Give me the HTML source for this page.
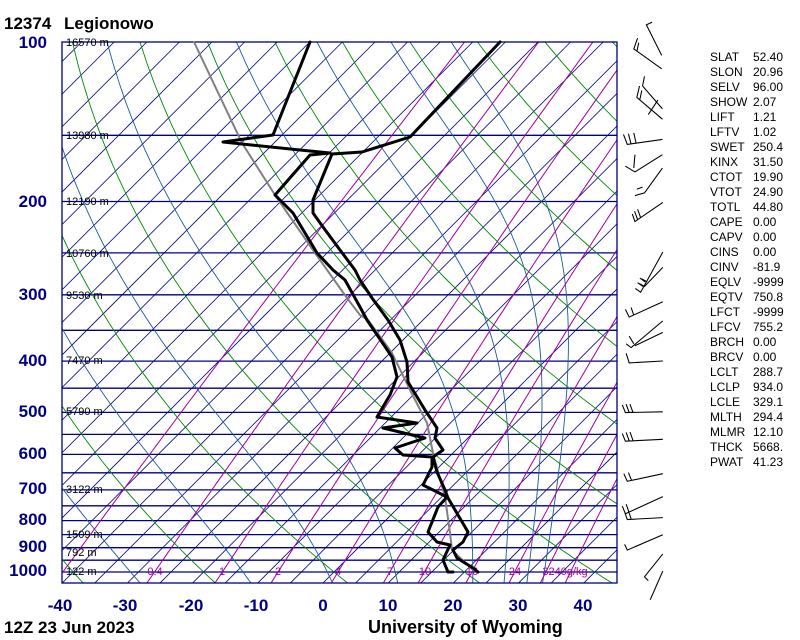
<!DOCTYPE html>
<html><head><meta charset="utf-8">
<style>
html,body{margin:0;padding:0;background:#fff;}
svg{display:block;font-family:"Liberation Sans",sans-serif;}
</style></head>
<body>
<svg id="s" width="800" height="640" viewBox="0 0 800 640" xmlns="http://www.w3.org/2000/svg">
<defs><clipPath id="c"><rect x="62" y="42" width="555" height="541"/></clipPath></defs>
<rect width="800" height="640" fill="#fff"/>
<g id="bg" clip-path="url(#c)" fill="none"></g>
<rect x="62" y="42" width="555" height="541" fill="none" stroke="#000080" stroke-width="1.3"/>
<g font-size="11" fill="#000">
<text x="66" y="46">16570 m</text>
<text x="66" y="139">13980 m</text>
<text x="66" y="205">12190 m</text>
<text x="66" y="257">10760 m</text>
<text x="66" y="299">9530 m</text>
<text x="66" y="364">7470 m</text>
<text x="66" y="415">5790 m</text>
<text x="66" y="493">3122 m</text>
<text x="66" y="538">1509 m</text>
<text x="66" y="556">792 m</text>
<text x="66" y="575">122 m</text>
</g>
<g font-size="11" fill="#a000a0" text-anchor="middle">
<text x="155" y="575">0.4</text><text x="222" y="575">1</text><text x="278" y="575">2</text>
<text x="338" y="575">4</text><text x="390" y="575">7</text><text x="425" y="575">10</text>
<text x="472" y="575">16</text><text x="515" y="575">24</text><text x="565" y="575">3240g/kg</text>
</g>
<g fill="none" stroke-linejoin="round" stroke-linecap="round">
<polyline stroke="#808080" stroke-width="2" points="194,42 242,143 275,195 315,253 347,298 360,315 368,320 392,353 410,390 427,423 433,453 445,497 450,533 452,550 473,570"/>
<polyline stroke="#000" stroke-width="3" points="500,42 410,137 362,152 332,154 313,200 313,213 323,227 340,250 355,270 360,280 372,298 388,320 400,340 407,362 408,382 425,410 437,428 435,438 443,450 433,457 437,472 445,490 448,498 468,532 463,542 453,550 457,558 473,568 478,572"/>
<polyline stroke="#000" stroke-width="3" points="310,42 273,135 223,142 300,150 330,153 310,155 275,195 280,200 293,213 317,253 333,270 345,280 360,307 367,320 392,357 397,377 390,395 377,417 417,423 383,428 425,438 395,448 403,455 432,457 432,467 423,485 447,497 438,507 428,532 437,542 450,545 443,560 448,572 453,572"/>
</g>
<g transform="translate(591,0) scale(0.382)" stroke="#000" stroke-width="2.8" fill="none">
<path d="M185,180L112,128L122,100M120,135L125,112M185,145L145,65L160,58"/>
<path d="M187,312L120,255L127,225M128,260L133,237M187,285L135,225L140,200M150,300L175,262"/>
<path d="M187,365L95,378L85,352M105,378L98,350M118,375L112,348"/>
<path d="M187,405L115,450L90,435M112,440L115,405M187,440L140,505L115,512M135,490L120,495"/>
<path d="M188,530L115,580L108,560M122,575L114,553M130,570L122,548"/>
<path d="M188,660L130,765L116,755M136,750L122,740M142,738L128,728M188,700L140,750L126,742M147,738L133,730"/>
<path d="M188,790L100,830L90,810M112,825L105,805"/>
<path d="M188,840L105,910L92,900M112,900L100,880M188,870L115,905"/>
<path d="M188,945L100,950L92,925"/>
<path d="M188,1078L90,1080L82,1060M100,1080L92,1058M110,1080L102,1058"/>
<path d="M188,1150L90,1155L82,1135M100,1154L92,1132M110,1153L102,1131"/>
<path d="M188,1240L95,1260L86,1240M106,1257L98,1237"/>
<path d="M188,1300L90,1345L82,1325M100,1342L92,1320M188,1355L95,1360L88,1340M105,1358L98,1338"/>
<path d="M188,1400L95,1440L88,1425"/>
<path d="M188,1450L140,1510L150,1520"/>
<path d="M188,1495L155,1570"/>
</g>
<g font-size="12" fill="#000">
<text x="710" y="61">SLAT</text><text x="753" y="61">52.40</text>
<text x="710" y="76">SLON</text><text x="753" y="76">20.96</text>
<text x="710" y="91">SELV</text><text x="753" y="91">96.00</text>
<text x="710" y="106">SHOW</text><text x="753" y="106">2.07</text>
<text x="710" y="121">LIFT</text><text x="753" y="121">1.21</text>
<text x="710" y="136">LFTV</text><text x="753" y="136">1.02</text>
<text x="710" y="151">SWET</text><text x="753" y="151">250.4</text>
<text x="710" y="166">KINX</text><text x="753" y="166">31.50</text>
<text x="710" y="181">CTOT</text><text x="753" y="181">19.90</text>
<text x="710" y="196">VTOT</text><text x="753" y="196">24.90</text>
<text x="710" y="211">TOTL</text><text x="753" y="211">44.80</text>
<text x="710" y="226">CAPE</text><text x="753" y="226">0.00</text>
<text x="710" y="241">CAPV</text><text x="753" y="241">0.00</text>
<text x="710" y="256">CINS</text><text x="753" y="256">0.00</text>
<text x="710" y="271">CINV</text><text x="753" y="271">-81.9</text>
<text x="710" y="286">EQLV</text><text x="753" y="286">-9999</text>
<text x="710" y="301">EQTV</text><text x="753" y="301">750.8</text>
<text x="710" y="316">LFCT</text><text x="753" y="316">-9999</text>
<text x="710" y="331">LFCV</text><text x="753" y="331">755.2</text>
<text x="710" y="346">BRCH</text><text x="753" y="346">0.00</text>
<text x="710" y="361">BRCV</text><text x="753" y="361">0.00</text>
<text x="710" y="376">LCLT</text><text x="753" y="376">288.7</text>
<text x="710" y="391">LCLP</text><text x="753" y="391">934.0</text>
<text x="710" y="406">LCLE</text><text x="753" y="406">329.1</text>
<text x="710" y="421">MLTH</text><text x="753" y="421">294.4</text>
<text x="710" y="436">MLMR</text><text x="753" y="436">12.10</text>
<text x="710" y="451">THCK</text><text x="753" y="451">5668.</text>
<text x="710" y="466">PWAT</text><text x="753" y="466">41.23</text>
</g>
<text x="4" y="29" font-size="17" font-weight="bold" fill="#000">12374</text>
<text x="64" y="29" font-size="17" font-weight="bold" fill="#000">Legionowo</text>
<g font-size="17" font-weight="bold" fill="#000080" text-anchor="end">
<text x="47" y="48">100</text><text x="47" y="207">200</text><text x="47" y="300">300</text>
<text x="47" y="366">400</text><text x="47" y="417">500</text><text x="47" y="459">600</text>
<text x="47" y="494">700</text><text x="47" y="525">800</text><text x="47" y="552">900</text>
<text x="47" y="576">1000</text>
</g>
<g font-size="17" font-weight="bold" fill="#000080" text-anchor="middle">
<text x="60" y="611">-40</text><text x="125" y="611">-30</text><text x="191" y="611">-20</text>
<text x="256" y="611">-10</text><text x="323" y="611">0</text><text x="388" y="611">10</text>
<text x="453" y="611">20</text><text x="518" y="611">30</text><text x="583" y="611">40</text>
</g>
<text x="4" y="633" font-size="17" font-weight="bold" fill="#000">12Z 23 Jun 2023</text>
<text x="368" y="633" font-size="18" font-weight="bold" fill="#000">University of Wyoming</text>
<script>
(function(){
var NS="http://www.w3.org/2000/svg",g=document.getElementById("bg");
function Y(p){return 572+230.2*Math.log(p/1000);}
function X(T,p){return 323+6.52*T+(583-Y(p));}
function pl(pts,col,w){var e=document.createElementNS(NS,"polyline");e.setAttribute("points",pts.map(function(a){return a[0].toFixed(1)+","+a[1].toFixed(1);}).join(" "));e.setAttribute("stroke",col);e.setAttribute("stroke-width",w);e.setAttribute("fill","none");g.appendChild(e);}
var T,p;
for(T=-125;T<=45;T+=5){pl([[X(T,1050),Y(1050)],[X(T,100),Y(100)]],"#000080",0.8);}
for(p=100;p<=1050;p+=50){pl([[62,Y(p)],[617,Y(p)]],"#000080",1.3);}
for(var th=-40;th<=200;th+=20){var a=[];for(p=1050;p>=100;p-=10){T=(th+273.15)*Math.pow(p/1000,0.286)-273.15;a.push([X(T,p),Y(p)]);}pl(a,"#008800",0.9);}
function lapse(Tk,p){var Tc=Tk-273.15,es=6.112*Math.exp(17.67*Tc/(Tc+243.5)),rs=0.622*es/(p-es);return (287*Tk+2.5e6*rs)/(p*(1004+2.5e6*2.5e6*rs*0.622/(287*Tk*Tk)));}
[-28,-11,1.5,11.5,23,27.8,31.3,33.7].forEach(function(t0){var Tk=t0+273.15,a=[];for(p=1050;p>=100;p-=2){if(p%10==0)a.push([X(Tk-273.15,p),Y(p)]);Tk-=lapse(Tk,p)*2;}pl(a,"#1a5a9a",0.9);});
[0.1,0.4,1,2,4,7,10,16,24,32,40].forEach(function(w){var a=[];for(p=1050;p>=100;p-=10){var e=w*p/(622+w),l=Math.log(e/6.112),Td=243.5*l/(17.67-l);a.push([X(Td,p),Y(p)]);}pl(a,"#a000a0",1);});
})();
</script>
</svg>
</body></html>
